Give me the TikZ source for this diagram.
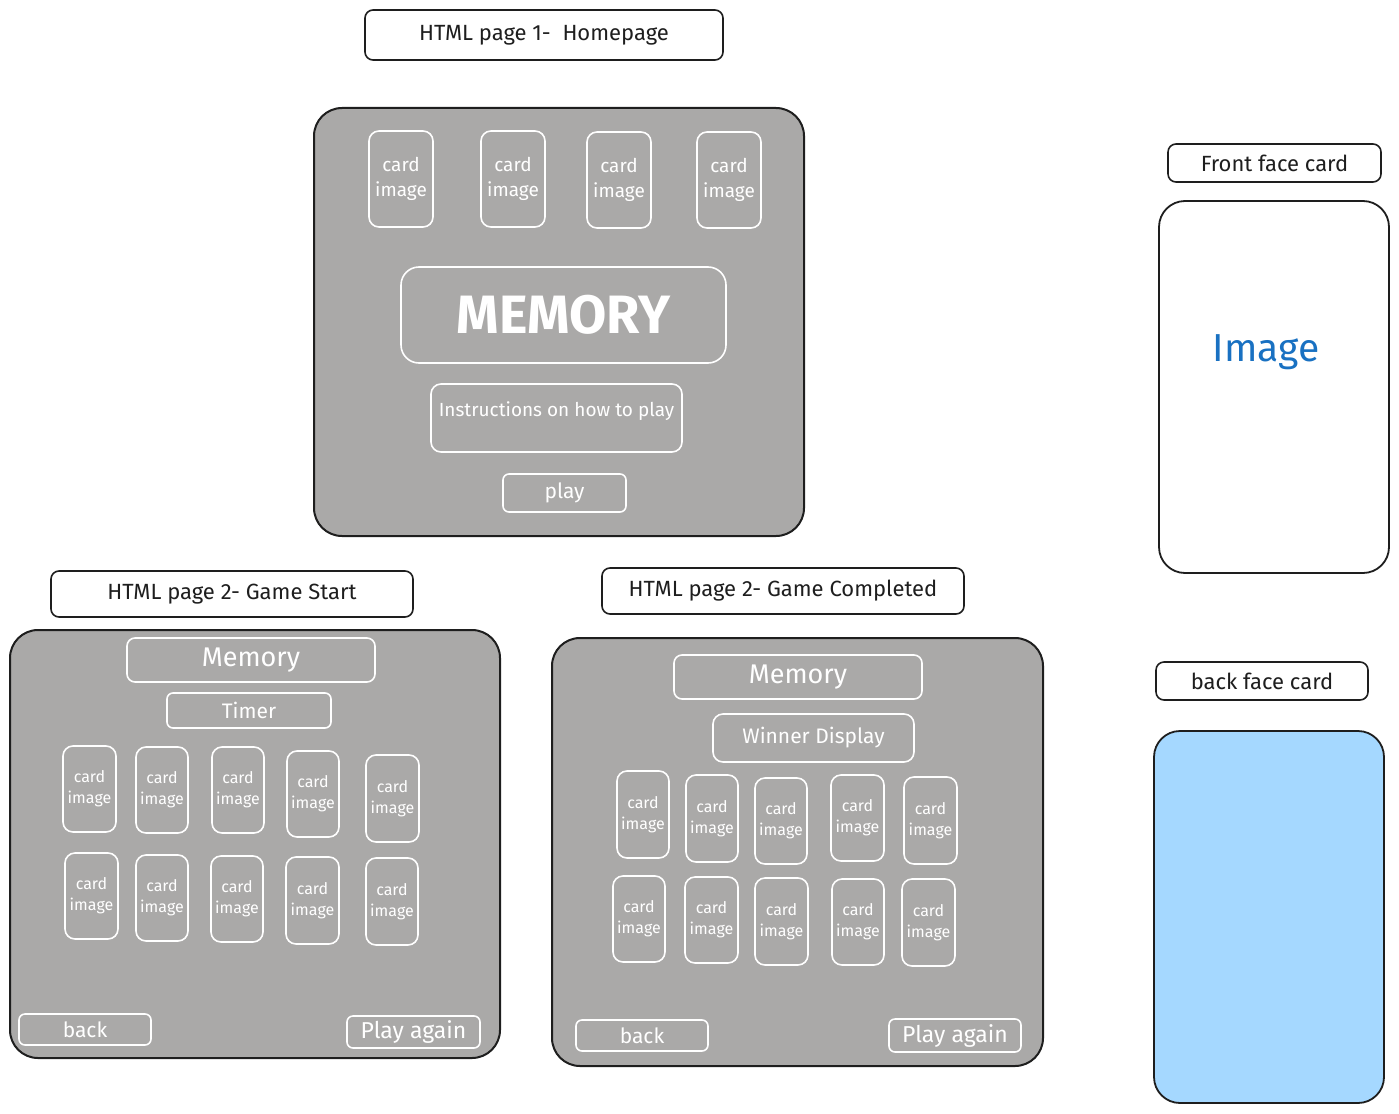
\documentclass[tikz,border=0pt]{standalone}
\usepackage{fontspec}
\setmainfont{Fira Sans}
\definecolor{ink}{HTML}{1E1E1E}
\definecolor{panel}{HTML}{AAA9A8}
\definecolor{imgblue}{HTML}{1971C2}
\definecolor{backblue}{HTML}{A5D8FF}
\tikzset{
  base/.style={inner sep=0pt, outer sep=0pt, align=center},
  label box/.style={base, draw=ink, line width=1.6pt, fill=white, rounded corners=8pt, text=ink, font=\fontsize{22}{24}\selectfont},
  frame/.style={base, draw=ink, line width=2pt, fill=panel, rounded corners=28pt},
  wbox/.style={base, draw=white, line width=1.6pt, rounded corners=10pt, text=white},
  cardA/.style={wbox, font=\fontsize{19}{25}\selectfont},
  cardB/.style={wbox, font=\fontsize{16}{21}\selectfont},
  btn/.style={wbox, rounded corners=6pt, font=\fontsize{21}{24}\selectfont},
}
\newcommand{\bx}[7]{%
  \node[#6, minimum width={(#4-#2)*1pt}, minimum height={(#5-#3)*1pt}] (#1) at ({(#2+#4)/2},{(#3+#5)/2}) {#7};}
\begin{document}
\begin{tikzpicture}[x=1pt,y=-1pt]
\useasboundingbox (0,0) rectangle (1399,1113);
% page 1
\bx{t1}{365}{10}{723}{60}{label box}{HTML page 1-\ \ Homepage}
\bx{f1}{314}{108}{804}{536}{frame}{}
\bx{c11}{369}{131}{433}{227}{cardA}{card\\image}
\bx{c12}{481}{131}{545}{227}{cardA}{card\\image}
\bx{c13}{587}{132}{651}{228}{cardA}{card\\image}
\bx{c14}{697}{132}{761}{228}{cardA}{card\\image}
\bx{mem1}{401}{267}{726}{363}{wbox, rounded corners=18pt, font=\bfseries\fontsize{54}{56}\selectfont}{MEMORY}
\bx{ins}{431}{384}{682}{452}{wbox, font=\fontsize{19}{22}\selectfont, text depth=18pt}{Instructions on how to play}
\bx{play}{503}{474}{626}{512}{btn}{play}
% page 2 start
\bx{t2}{51}{571}{413}{617}{label box}{HTML page 2- Game Start}
\bx{f2}{10}{630}{500}{1058}{frame}{}
\bx{mem2}{127}{638}{375}{682}{wbox, rounded corners=8pt, font=\fontsize{27}{28}\selectfont}{Memory}
\bx{timer}{167}{693}{331}{728}{btn}{Timer}
\bx{s1}{63}{746}{116}{832}{cardB}{card\\image}
\bx{s2}{136}{747}{188}{833}{cardB}{card\\image}
\bx{s3}{212}{747}{264}{833}{cardB}{card\\image}
\bx{s4}{287}{751}{339}{837}{cardB}{card\\image}
\bx{s5}{366}{755}{419}{842}{cardB}{card\\image}
\bx{s6}{65}{853}{118}{939}{cardB}{card\\image}
\bx{s7}{136}{855}{188}{941}{cardB}{card\\image}
\bx{s8}{211}{856}{263}{942}{cardB}{card\\image}
\bx{s9}{286}{857}{339}{944}{cardB}{card\\image}
\bx{s10}{366}{858}{418}{945}{cardB}{card\\image}
\bx{back2}{19}{1014}{151}{1045}{btn}{back}
\bx{again2}{347}{1016}{480}{1048}{btn, font=\fontsize{23}{24}\selectfont}{Play again}
% page 2 completed
\bx{t3}{602}{568}{964}{614}{label box}{HTML page 2- Game Completed}
\bx{f3}{552}{638}{1043}{1066}{frame}{}
\bx{mem3}{674}{655}{922}{699}{wbox, rounded corners=8pt, font=\fontsize{27}{28}\selectfont}{Memory}
\bx{winner}{713}{714}{914}{762}{btn, rounded corners=10pt}{Winner Display}
\bx{g1}{617}{771}{669}{858}{cardB}{card\\image}
\bx{g2}{686}{775}{738}{862}{cardB}{card\\image}
\bx{g3}{755}{778}{807}{864}{cardB}{card\\image}
\bx{g4}{831}{775}{884}{861}{cardB}{card\\image}
\bx{g5}{904}{777}{957}{864}{cardB}{card\\image}
\bx{g6}{613}{876}{665}{962}{cardB}{card\\image}
\bx{g7}{685}{877}{738}{963}{cardB}{card\\image}
\bx{g8}{755}{878}{808}{965}{cardB}{card\\image}
\bx{g9}{832}{879}{884}{965}{cardB}{card\\image}
\bx{g10}{902}{879}{955}{966}{cardB}{card\\image}
\bx{back3}{576}{1020}{708}{1051}{btn}{back}
\bx{again3}{889}{1019}{1021}{1052}{btn, font=\fontsize{23}{24}\selectfont}{Play again}
% card faces
\bx{t4}{1168}{144}{1381}{182}{label box}{Front face card}
\bx{front}{1159}{201}{1389}{573}{base, draw=ink, line width=1.8pt, fill=white, rounded corners=26pt, text=imgblue, font=\fontsize{39}{40}\selectfont}{}
\node[base, text=imgblue, font=\fontsize{39}{40}\selectfont] (imgtxt) at (1266,352) {Image};
\bx{t5}{1156}{662}{1368}{700}{label box}{back face card}
\bx{backcard}{1154}{731}{1384}{1103}{base, draw=ink, line width=1.8pt, fill=backblue, rounded corners=26pt}{}
\end{tikzpicture}
\end{document}
